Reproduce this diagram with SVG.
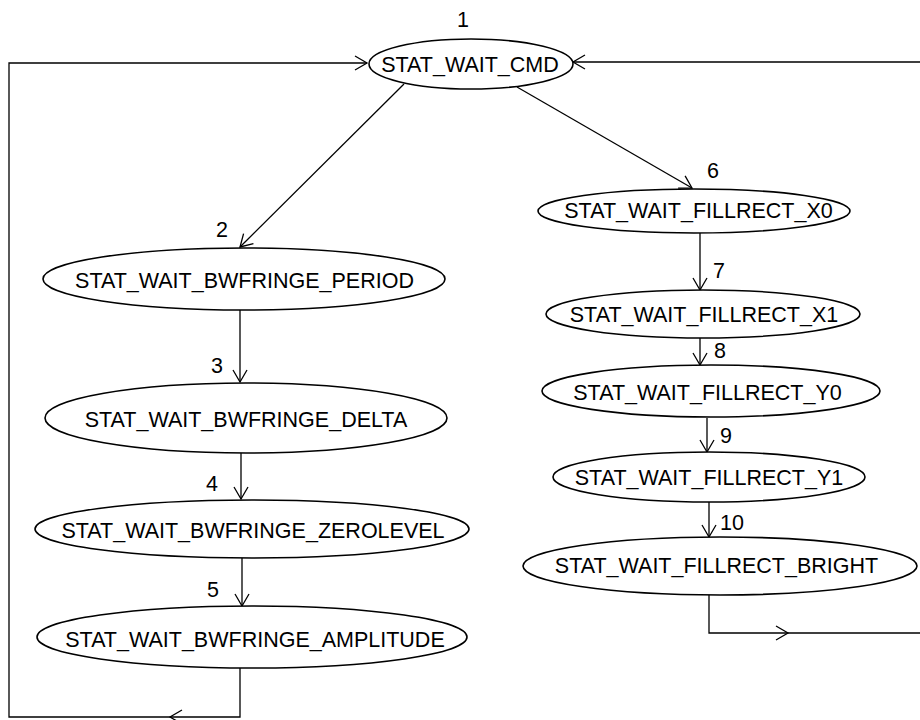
<svg xmlns="http://www.w3.org/2000/svg" width="920" height="720" viewBox="0 0 920 720">
<style>
.node ellipse{fill:#fff;stroke:#000;stroke-width:1.6}
.node text,.lbl{font-family:"Liberation Sans",Arial,sans-serif;font-size:21.5px;fill:#000}
.node text{text-anchor:middle}
.lbl{text-anchor:middle}
.edge{fill:none;stroke:#000;stroke-width:1.3}
</style>
<defs>
<marker id="arr" markerWidth="20" markerHeight="20" refX="0" refY="0" orient="auto" markerUnits="userSpaceOnUse" viewBox="-15 -10 20 20" overflow="visible">
<path d="M-12,-7 L0,0 L-12,7" fill="none" stroke="#000" stroke-width="1.3"/>
</marker>
</defs>
<rect width="920" height="720" fill="#fff"/>
<g id="connectors">
<path class="edge" d="M404 84 L240 247" marker-end="url(#arr)"/>
<path class="edge" d="M517 87 L692 188" marker-end="url(#arr)"/>
<path class="edge" d="M240 310 V382" marker-end="url(#arr)"/>
<path class="edge" d="M241 453 V499" marker-end="url(#arr)"/>
<path class="edge" d="M242 558 V606" marker-end="url(#arr)"/>
<path class="edge" d="M700 233 V290" marker-end="url(#arr)"/>
<path class="edge" d="M700 338 V365" marker-end="url(#arr)"/>
<path class="edge" d="M707 418 V452" marker-end="url(#arr)"/>
<path class="edge" d="M709 502 V537" marker-end="url(#arr)"/>
<g id="loop5">
<path class="edge" d="M240 668 V717 H170" marker-end="url(#arr)"/>
<path class="edge" d="M170 717 H9 V63 H367" marker-end="url(#arr)"/>
</g>
<g id="loop10">
<path class="edge" d="M709 595 V633 H788" marker-end="url(#arr)"/>
<path class="edge" d="M788 633 H924 V62 H573" marker-end="url(#arr)"/>
</g>
<text class="lbl" x="463" y="27">1</text>
<text class="lbl" x="222" y="237">2</text>
<text class="lbl" x="217" y="373">3</text>
<text class="lbl" x="212" y="491">4</text>
<text class="lbl" x="213" y="597">5</text>
<text class="lbl" x="713" y="178">6</text>
<text class="lbl" x="719" y="278">7</text>
<text class="lbl" x="720" y="358">8</text>
<text class="lbl" x="726" y="443">9</text>
<text class="lbl" x="732" y="530">10</text>
</g>
<g id="n1" class="node"><ellipse cx="471" cy="64" rx="102" ry="25"/><text x="470" y="72">STAT_WAIT_CMD</text></g>
<g id="n2" class="node"><ellipse cx="244" cy="279" rx="201" ry="31"/><text x="244.5" y="288">STAT_WAIT_BWFRINGE_PERIOD</text></g>
<g id="n3" class="node"><ellipse cx="246" cy="418" rx="201" ry="35"/><text x="246" y="427">STAT_WAIT_BWFRINGE_DELTA</text></g>
<g id="n4" class="node"><ellipse cx="252" cy="529" rx="217" ry="29"/><text x="253" y="538">STAT_WAIT_BWFRINGE_ZEROLEVEL</text></g>
<g id="n5" class="node"><ellipse cx="252" cy="637" rx="215" ry="31"/><text x="255" y="647">STAT_WAIT_BWFRINGE_AMPLITUDE</text></g>
<g id="n6" class="node"><ellipse cx="694" cy="211" rx="156" ry="22"/><text x="698.5" y="218">STAT_WAIT_FILLRECT_X0</text></g>
<g id="n7" class="node"><ellipse cx="703" cy="314" rx="157" ry="24"/><text x="704" y="322">STAT_WAIT_FILLRECT_X1</text></g>
<g id="n8" class="node"><ellipse cx="711" cy="391" rx="169" ry="26"/><text x="707.5" y="400">STAT_WAIT_FILLRECT_Y0</text></g>
<g id="n9" class="node"><ellipse cx="709" cy="477" rx="156" ry="25"/><text x="709" y="485">STAT_WAIT_FILLRECT_Y1</text></g>
<g id="n10" class="node"><ellipse cx="720" cy="566" rx="197" ry="29"/><text x="716.5" y="573">STAT_WAIT_FILLRECT_BRIGHT</text></g>
</svg>
